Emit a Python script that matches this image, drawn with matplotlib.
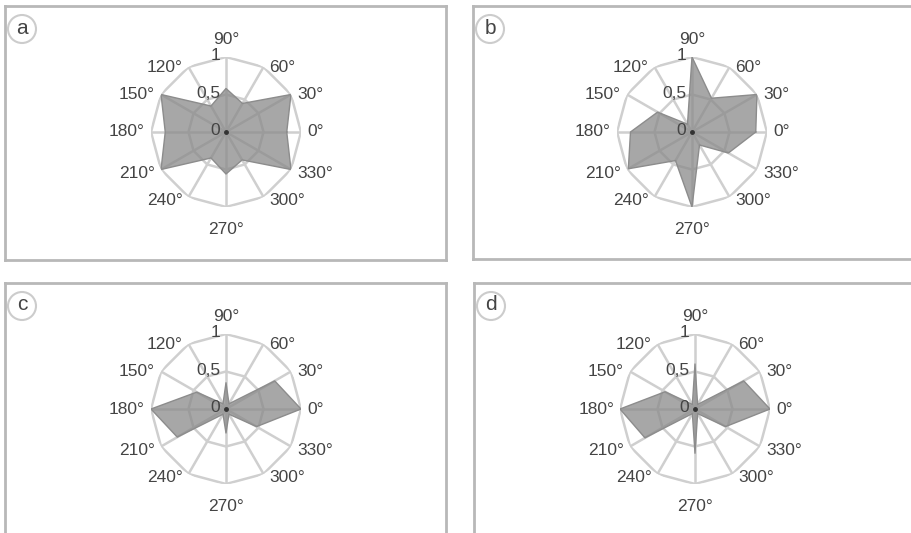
"""Four radar panels (a-d) of normalised directional values."""
import matplotlib.pyplot as plt
import numpy as np
from matplotlib.patches import Circle

plt.rcParams["font.family"] = ["Liberation Sans", "DejaVu Sans"]

angles_deg = [0, 30, 60, 90, 120, 150, 180, 210, 240, 270, 300, 330]
angle_labels = [f"{a}°" for a in angles_deg]
r_ticks = [0, 0.5, 1]
r_tick_labels = ["0", "0,5", "1"]

panel_names = ["a", "b", "c", "d"]
vals_a = [0.81, 1.0, 0.44, 0.58, 0.40, 1.0, 0.81, 1.0, 0.40, 0.56, 0.43, 1.0]
vals_b = [0.85, 1.0, 0.52, 1.0, 0.12, 0.53, 0.82, 0.98, 0.44, 1.0, 0.20, 0.56]
vals_c = [1.0, 0.75, 0.08, 0.35, 0.08, 0.45, 1.0, 0.75, 0.08, 0.32, 0.08, 0.47]
vals_d = [1.0, 0.75, 0.07, 0.60, 0.07, 0.46, 1.0, 0.77, 0.07, 0.59, 0.07, 0.47]
panel_vals = [vals_a, vals_b, vals_c, vals_d]

W, H = 911, 533
GRID = "#cfcfcf"
TXT = "#444444"
PX = 0.72  # points per pixel at dpi 100

# box rects (px, top-origin): left, top, right, bottom
boxes = [(5, 6, 446, 260), (473, 6, 960, 259), (5, 283, 446, 580), (474, 283, 960, 580)]
centers = [(226, 132), (692, 132), (226, 409), (695, 409)]
R = 75

fig = plt.figure(figsize=(W / 100, H / 100), dpi=100)

theta = np.deg2rad(angles_deg)
theta_c = np.append(theta, theta[0])


def label_style(a):
    # alignment and pixel offset of an angle label relative to its outer vertex
    if a == 90:
        return "center", "bottom", 0, 10
    if a == 270:
        return "center", "top", 0, -15
    ha = "left" if np.cos(np.deg2rad(a)) > 0 else "right"
    dx = 6 if ha == "left" else -6
    dy = -4 if 180 < a < 360 else 0
    return ha, "center", dx, dy


for name, vals, (l, t, r, b), (cx, cy) in zip(panel_names, panel_vals, boxes, centers):
    box = fig.add_axes([l / W, (H - b) / H, (r - l) / W, (b - t) / H])
    box.set_xticks([])
    box.set_yticks([])
    for s in box.spines.values():
        s.set_color("#b8b8b8")
        s.set_linewidth(2)
    box.set_xlim(l, r)
    box.set_ylim(b, t)
    box.add_patch(Circle((l + 17, t + 23), 14, fc="white", ec="#cccccc", lw=1.5))
    box.text(l + 17, t + 22, name, ha="center", va="center", fontsize=15, color=TXT)

    ax = fig.add_axes([(cx - R) / W, (H - cy - R) / H, 2 * R / W, 2 * R / H],
                      projection="polar")
    ax.set_ylim(0, 1)
    ax.grid(False)
    ax.spines["polar"].set_visible(False)
    ax.patch.set_alpha(0)

    # dodecagon grid and spokes
    for rr in [0.5, 1.0]:
        ax.plot(theta_c, np.full(len(theta_c), rr), color=GRID, lw=1.8, zorder=1)
    for th in theta:
        ax.plot([th, th], [0, 1], color=GRID, lw=1.8, zorder=1)

    v = np.append(vals, vals[0])
    ax.fill(theta_c, v, color="#8a8a8a", alpha=0.75, lw=0, zorder=2)
    ax.plot(theta_c, v, color="#8c8c8c", lw=1, zorder=3)
    ax.plot([0], [0], "o", color="#333333", ms=2.5, zorder=4)

    ax.set_xticks(theta)
    ax.set_xticklabels([])
    ax.set_yticks(r_ticks)
    ax.set_yticklabels([])
    for a, th, lab in zip(angles_deg, theta, angle_labels):
        ha, va, dx, dy = label_style(a)
        ax.annotate(lab, (th, 1), xytext=(dx * PX, dy * PX), textcoords="offset points",
                    ha=ha, va=va, fontsize=12.5, color=TXT, annotation_clip=False)
    for rv, lab in zip(r_ticks, r_tick_labels):
        ax.annotate(lab, (np.pi / 2, rv), xytext=(-4, 1), textcoords="offset points",
                    ha="right", va="center", fontsize=12.5, color=TXT, zorder=5)

fig.savefig("out.png", dpi=100)
